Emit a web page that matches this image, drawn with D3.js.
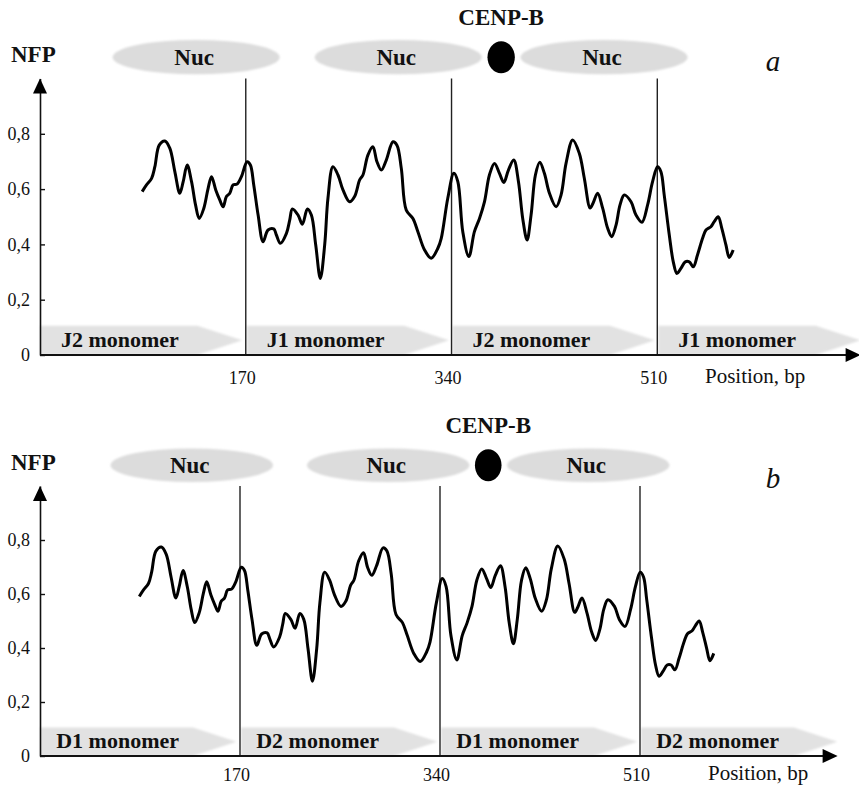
<!DOCTYPE html>
<html>
<head>
<meta charset="utf-8">
<script src="https://cdn.jsdelivr.net/npm/d3@7"></script>
<style>
body { margin: 0; background: #fff; }
text { font-family: "Liberation Serif", "Times New Roman", serif; fill: #111; }
</style>
</head>
<body>
<div id="chart"></div>
<script>
// data (same NFP profile in both panels)
const position = [84.4, 88, 92.2, 94.9, 98.5, 103.2, 107.3, 111.4, 115.5, 118.3, 121.6, 125.2, 128.5, 131.5,
  135.3, 138.9, 141.7, 145.2, 148.5, 151.3, 154, 156.8, 159.5, 162.8, 166.4, 171.1, 173.8, 176.6, 180.2,
  184.3, 188.4, 193.1, 195.3, 198.6, 203.6, 206.3, 208.5, 213.2, 216.8, 220.9, 224.2, 227.8, 231.6, 235.2,
  237.9, 242, 246.2, 250.3, 255.8, 259.9, 264.1, 266.8, 270.9, 275, 278.4, 282, 286.1, 291.6, 294.9, 298.5,
  302.6, 308.1, 312.2, 317.7, 323.2, 328.7, 331.5, 336.9, 341.9, 345.2, 349.3, 354.3, 358.9, 363.1, 367.2,
  371.3, 375.5, 379.6, 383.2, 387, 391.4, 395.3, 398.8, 402.4, 405.7, 409.3, 412.9, 416.7, 420.9, 426.4,
  430.5, 434.6, 440.1, 445.6, 449.7, 454.5, 457, 460.7, 464.9, 469, 472.3, 475.9, 479.2, 482.7, 488.3,
  492.4, 497.3, 502, 506.1, 510.2, 513, 515.7, 519.9, 523.2, 526.2, 529.5, 533.1, 536.4, 539.7, 543.2,
  547.4, 550.2, 554.3, 557, 560.3, 563.3, 566.7, 569.4, 572.7];
const nfp = [0.591, 0.615, 0.639, 0.681, 0.759, 0.774, 0.747, 0.663, 0.585, 0.627, 0.687, 0.627, 0.543, 0.494,
  0.530, 0.603, 0.645, 0.597, 0.561, 0.536, 0.573, 0.585, 0.615, 0.618, 0.645, 0.699, 0.687, 0.615, 0.506,
  0.410, 0.452, 0.456, 0.434, 0.404, 0.440, 0.488, 0.528, 0.506, 0.473, 0.528, 0.506, 0.398, 0.277, 0.398,
  0.567, 0.681, 0.651, 0.597, 0.554, 0.573, 0.633, 0.651, 0.723, 0.753, 0.699, 0.669, 0.705, 0.771, 0.759, 0.675,
  0.524, 0.494, 0.446, 0.380, 0.350, 0.386, 0.422, 0.567, 0.657, 0.627, 0.446, 0.356, 0.446, 0.494, 0.554,
  0.651, 0.693, 0.657, 0.624, 0.669, 0.705, 0.627, 0.494, 0.416, 0.506, 0.651, 0.697, 0.657, 0.585, 0.536,
  0.579, 0.693, 0.778, 0.729, 0.639, 0.532, 0.550, 0.585, 0.530, 0.458, 0.428, 0.470, 0.543, 0.579, 0.554,
  0.506, 0.480, 0.543, 0.627, 0.681, 0.663, 0.579, 0.434, 0.337, 0.295, 0.313, 0.337, 0.337, 0.319, 0.362,
  0.422, 0.452, 0.464, 0.482, 0.500, 0.458, 0.398, 0.353, 0.380];

const xTicks = [170, 340, 510];
const yTicks = [0, 0.2, 0.4, 0.6, 0.8];
const boundaries = [170, 340, 510];
const nucCenters = [129, 296, 466];
const cenpbPos = 381;
const monomerStarts = [0, 170, 340, 510];
const monomersA = ['J2 monomer', 'J1 monomer', 'J2 monomer', 'J1 monomer'];
const monomersB = ['D1 monomer', 'D2 monomer', 'D1 monomer', 'D2 monomer'];

const profile = position.map((p, i) => ({pos: p, nfp: nfp[i]}));

const svg = d3.select('#chart').append('svg').attr('width', 859).attr('height', 786);

// soft edges for the grey shapes
const defs = svg.append('defs');
defs.append('filter').attr('id', 'soft')
  .append('feGaussianBlur').attr('stdDeviation', 0.8);

const panels = [
  {letter: 'a', monomers: monomersA, xEnd: 657.3, y0: 355, y1: 78.5, letterY: 71, tickPad: 16, posX: 705, posY: 383},
  {letter: 'b', monomers: monomersB, xEnd: 640, y0: 756, y1: 486, letterY: 488, tickPad: 12, posX: 708, posY: 780}
];

panels.forEach(p => {
  const x = d3.scaleLinear().domain([0, 510]).range([40, p.xEnd]);
  const y = d3.scaleLinear().domain([0, 1]).range([p.y0, p.y1]);
  const g = svg.append('g');

  // nucleosomes
  g.selectAll('ellipse.nuc').data(nucCenters).enter().append('ellipse')
    .attr('class', 'nuc')
    .attr('cx', d => x(d)).attr('cy', y(1.077))
    .attr('rx', x(69) - x(0)).attr('ry', y(1.015) - y(1.077))
    .attr('fill', '#dcdcdc').attr('filter', 'url(#soft)');

  g.selectAll('text.nuc').data(nucCenters).enter().append('text')
    .attr('class', 'nuc')
    .attr('x', d => x(d) - 2).attr('y', y(1.05))
    .attr('text-anchor', 'middle')
    .style('font-weight', 'bold').style('font-size', '23px')
    .text('Nuc');

  // CENP-B box
  g.append('ellipse')
    .attr('cx', x(cenpbPos)).attr('cy', y(1.077))
    .attr('rx', x(11.3) - x(0)).attr('ry', 16)
    .attr('fill', '#000');

  g.append('text')
    .attr('x', x(cenpbPos)).attr('y', y(1.195))
    .attr('text-anchor', 'middle')
    .style('font-weight', 'bold').style('font-size', '23px')
    .text('CENP-B');

  g.append('text')
    .attr('x', 11).attr('y', y(1.06))
    .style('font-weight', 'bold').style('font-size', '23px')
    .text('NFP');

  g.append('text')
    .attr('x', 773).attr('y', p.letterY)
    .attr('text-anchor', 'middle')
    .style('font-style', 'italic').style('font-size', '29px')
    .text(p.letter);

  // monomer arrows along the bottom
  const h = 0.106;
  const arrow = s => [[s, 0], [s, h], [s + 130, h], [s + 167, h / 2], [s + 130, 0]]
    .map(q => [x(q[0] + (s > 0 ? 0.8 : 0)), y(q[1])]);

  g.selectAll('polygon.mono').data(monomerStarts).enter().append('polygon')
    .attr('class', 'mono')
    .attr('points', d => arrow(d).join(' '))
    .attr('fill', '#e2e2e2').attr('filter', 'url(#soft)');

  g.selectAll('text.mono').data(monomerStarts).enter().append('text')
    .attr('class', 'mono')
    .attr('x', d => x(d + 66)).attr('y', p.y0 - 8)
    .attr('text-anchor', 'middle')
    .style('font-weight', 'bold').style('font-size', '22px')
    .text((d, i) => p.monomers[i]);

  // monomer boundaries
  g.selectAll('line.bound').data(boundaries).enter().append('line')
    .attr('class', 'bound')
    .attr('x1', d => x(d)).attr('x2', d => x(d))
    .attr('y1', y(1)).attr('y2', y(0))
    .attr('stroke', '#222').attr('stroke-width', 1.4);

  // y axis
  const yAxis = g.append('g').attr('transform', `translate(${x(0)},0)`)
    .call(d3.axisLeft(y).tickValues(yTicks).tickSizeInner(-5).tickSizeOuter(0).tickPadding(10)
      .tickFormat(d => d === 0 ? '0' : d3.format('.1f')(d).replace('.', ',')));
  yAxis.select('.domain').attr('stroke', '#111').attr('stroke-width', 1.6);
  yAxis.selectAll('.tick line').attr('stroke', '#111').attr('stroke-width', 1.4);
  yAxis.selectAll('.tick text').style('font-size', '18px').style('font-family', '"Liberation Serif", serif').attr('fill', '#111');

  g.append('polygon')
    .attr('points', [[x(0), y(1)], [x(0) - 7, y(1) + 15], [x(0) + 7, y(1) + 15]].join(' '))
    .attr('fill', '#000');

  // x axis
  const xAxis = g.append('g').attr('transform', `translate(0,${y(0)})`)
    .call(d3.axisBottom(x).tickValues(xTicks).tickSize(0).tickPadding(p.tickPad).tickFormat(d3.format('d')));
  xAxis.select('.domain').remove();
  xAxis.selectAll('.tick text').attr('dx', -4).style('font-size', '18px')
    .style('font-family', '"Liberation Serif", serif').attr('fill', '#111');

  g.append('line')
    .attr('x1', x(0)).attr('x2', x(678) - 10)
    .attr('y1', y(0)).attr('y2', y(0))
    .attr('stroke', '#111').attr('stroke-width', 1.8);
  g.append('polygon')
    .attr('points', [[x(678), y(0)], [x(678) - 15, y(0) - 7], [x(678) - 15, y(0) + 7]].join(' '))
    .attr('fill', '#000');

  g.append('text')
    .attr('x', p.posX).attr('y', p.posY)
    .style('font-size', '21px')
    .text('Position, bp');

  // NFP profile
  const line = d3.line()
    .x(d => x(d.pos)).y(d => y(d.nfp))
    .curve(d3.curveCatmullRom.alpha(0.5));

  g.append('path').datum(profile)
    .attr('d', line)
    .attr('fill', 'none').attr('stroke', '#000')
    .attr('stroke-width', 3).attr('stroke-linejoin', 'round');
});
</script>
</body>
</html>
